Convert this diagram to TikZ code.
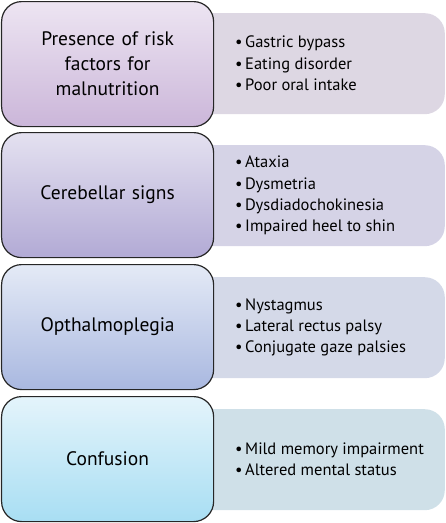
\documentclass[tikz,border=0pt]{standalone}
\usepackage{fontspec}
\setmainfont{PT Sans}
\definecolor{lAt}{HTML}{EDE5F2}\definecolor{lAb}{HTML}{CBB6D9}\definecolor{rA}{HTML}{DDD7E3}
\definecolor{lBt}{HTML}{E4E1F0}\definecolor{lBb}{HTML}{B2AAD5}\definecolor{rB}{HTML}{D5D3E6}
\definecolor{lCt}{HTML}{E4EAF6}\definecolor{lCb}{HTML}{A9B8E0}\definecolor{rC}{HTML}{D4D9E8}
\definecolor{lDt}{HTML}{E4F4FB}\definecolor{lDb}{HTML}{A8DEF3}\definecolor{rD}{HTML}{CFE0E8}
\newcommand{\bul}{\makebox[10pt][l]{•}}
\begin{document}
\begin{tikzpicture}[x=1pt,y=-1pt,
  leftbox/.style={draw=black!85, line width=1.2pt, rounded corners=20pt,
    minimum width=212pt, minimum height=125pt, text width=196pt, align=center,
    anchor=north west, font=\fontsize{19.5}{25}\selectfont},
  rightbox/.style={rounded corners=20pt, minimum width=255pt, minimum height=101pt,
    anchor=north east, inner sep=0pt},
  listtext/.style={anchor=west, align=left, inner sep=0pt, font=\fontsize{16.5}{21.3}\selectfont}]
\useasboundingbox (0,0) rectangle (446,523);
% right boxes
\node[rightbox, fill=rA] (rA) at (445,13) {};
\node[rightbox, fill=rB] (rB) at (445,145) {};
\node[rightbox, fill=rC] (rC) at (445,277) {};
\node[rightbox, fill=rD] (rD) at (445,409) {};
% left boxes
\node[leftbox, top color=lAt, bottom color=lAb] (lA) at (1,1) {Presence of risk\\factors for\\malnutrition};
\node[leftbox, top color=lBt, bottom color=lBb] (lB) at (1,132) {Cerebellar signs};
\node[leftbox, top color=lCt, bottom color=lCb] (lC) at (1,264) {Opthalmoplegia};
\node[leftbox, top color=lDt, bottom color=lDb] (lD) at (1,396) {Confusion};
% lists
\node[listtext] (tA) at (235,63.5) {\bul Gastric bypass\\\bul Eating disorder\\\bul Poor oral intake};
\node[listtext] (tB) at (235,195.5) {\bul Ataxia\\\bul Dysmetria\\\bul Dysdiadochokinesia\\\bul Impaired heel to shin};
\node[listtext] (tC) at (235,327.5) {\bul Nystagmus\\\bul Lateral rectus palsy\\\bul Conjugate gaze palsies};
\node[listtext] (tD) at (235,459.5) {\bul Mild memory impairment\\\bul Altered mental status};
\end{tikzpicture}
\end{document}
